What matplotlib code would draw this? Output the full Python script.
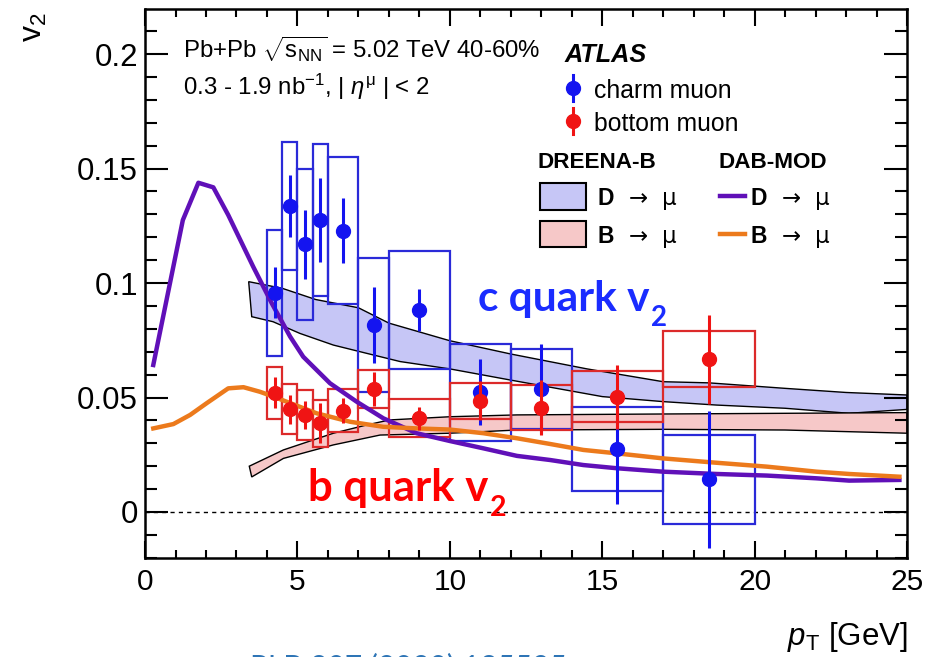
import numpy as np
import matplotlib
matplotlib.use("Agg")
import matplotlib.pyplot as plt
import matplotlib.patches as mpatches
from matplotlib.ticker import MultipleLocator, FuncFormatter

plt.rcParams['font.family'] = ['Liberation Sans', 'DejaVu Sans']
plt.rcParams['mathtext.fontset'] = 'custom'
plt.rcParams['mathtext.rm'] = 'Liberation Sans'
plt.rcParams['mathtext.it'] = 'Liberation Sans:italic'
plt.rcParams['mathtext.bf'] = 'Liberation Sans:bold'
plt.rcParams['mathtext.sf'] = 'Liberation Sans'

# ATLAS data: pT bins, v2, stat and syst errors
bin_edges = [4.0, 4.5, 5.0, 5.5, 6.0, 7.0, 8.0, 10.0, 12.0, 14.0, 17.0, 20.0]
pt = [4.25, 4.75, 5.25, 5.75, 6.5, 7.5, 9.0, 11.0, 13.0, 15.5, 18.5]

charm_v2 = [0.0958, 0.1336, 0.1169, 0.1275, 0.1229, 0.0817, 0.0882, 0.0523, 0.0537, 0.0274, 0.0143]
charm_stat = [0.011, 0.0135, 0.015, 0.0185, 0.0142, 0.0165, 0.009, 0.0145, 0.0195, 0.024, 0.030]
charm_syst = [0.0275, 0.028, 0.033, 0.0333, 0.0322, 0.0293, 0.0257, 0.0212, 0.0173, 0.0184, 0.0195]

bottom_v2 = [0.0521, 0.0448, 0.0424, 0.0387, 0.0442, 0.0537, 0.0409, 0.0485, 0.0456, 0.0504, 0.0667]
bottom_stat = [0.0067, 0.0063, 0.0062, 0.0087, 0.0055, 0.0073, 0.005, 0.0085, 0.012, 0.014, 0.0195]
bottom_syst = [0.0113, 0.0109, 0.011, 0.0104, 0.0094, 0.0084, 0.0083, 0.0079, 0.0097, 0.011, 0.0122]

# DAB-MOD curves
dab_d_pt = [0.27, 1.24, 1.75, 2.24, 2.73, 3.55, 4.16, 4.76, 5.19, 6.07, 6.94, 7.82, 8.91, 10.0,
            11.1, 12.2, 13.29, 14.38, 15.48, 17.0, 18.75, 20.4, 22.03, 23.1, 24.75]
dab_d_v2 = [0.0642, 0.1275, 0.1438, 0.1418, 0.1297, 0.1071, 0.0911, 0.0766, 0.0678, 0.0562, 0.0482,
            0.0409, 0.0344, 0.031, 0.0278, 0.0245, 0.0227, 0.0205, 0.0191, 0.0176, 0.0166, 0.0159,
            0.0147, 0.0137, 0.014]
dab_b_pt = [0.27, 0.93, 1.48, 2.02, 2.73, 3.23, 3.77, 4.21, 5.63, 6.73, 7.82, 8.91, 10.0, 11.1,
            12.2, 13.29, 14.38, 15.48, 17.0, 18.75, 20.4, 22.03, 23.1, 24.75]
dab_b_v2 = [0.0365, 0.0384, 0.0424, 0.0475, 0.054, 0.0545, 0.0525, 0.0504, 0.0431, 0.0394, 0.0372,
            0.0365, 0.036, 0.0344, 0.0322, 0.0297, 0.0271, 0.0256, 0.0234, 0.0215, 0.0198, 0.0176,
            0.0166, 0.0154]

# DREENA-B bands (upper and lower edges)
dreena_d_hi_pt = [3.4, 4.5, 5.6, 7.0, 8.0, 10.0, 12.0, 14.5, 17.0, 18.5, 21.0, 23.0, 25.0]
dreena_d_hi = [0.1006, 0.0977, 0.0928, 0.0892, 0.0825, 0.0748, 0.069, 0.0625, 0.0569, 0.0564, 0.054, 0.0522, 0.0511]
dreena_d_lo_pt = [3.5, 4.2, 5.08, 6.18, 7.27, 8.37, 10.0, 12.0, 15.0, 17.0, 18.75, 21.0, 23.1, 25.0]
dreena_d_lo = [0.0853, 0.0831, 0.078, 0.0729, 0.0693, 0.0657, 0.0625, 0.0576, 0.0504, 0.0482, 0.0467, 0.0453, 0.0431, 0.0448]

dreena_b_hi_pt = [3.42, 4.54, 6.18, 7.27, 8.02, 10.0, 12.2, 17.0, 21.0, 25.0]
dreena_b_hi = [0.0200, 0.0271, 0.0344, 0.038, 0.0402, 0.0416, 0.0424, 0.0428, 0.0431, 0.0434]
dreena_b_lo_pt = [3.5, 4.54, 6.18, 7.71, 10.0, 12.2, 17.0, 21.0, 25.0]
dreena_b_lo = [0.0153, 0.0234, 0.0293, 0.0336, 0.0344, 0.0358, 0.0361, 0.0358, 0.0344]

blue = '#1414f0'
red = '#f01414'
box_blue = '#2a2ad8'
box_red = '#dc2a2a'
purple = '#6010b8'
orange = '#ec7a1c'
band_blue = '#c6c6f6'
band_pink = '#f6c8c8'

fig = plt.figure(figsize=(9.37, 6.57), dpi=100)
ax = fig.add_axes([0.1548, 0.1507, 0.8132, 0.8356])

# DREENA-B bands
ax.fill(np.concatenate([dreena_d_hi_pt, dreena_d_lo_pt[::-1]]),
        np.concatenate([dreena_d_hi, dreena_d_lo[::-1]]),
        facecolor=band_blue, edgecolor='black', linewidth=1.0, zorder=1)
ax.fill(np.concatenate([dreena_b_hi_pt, dreena_b_lo_pt[::-1]]),
        np.concatenate([dreena_b_hi, dreena_b_lo[::-1]]),
        facecolor=band_pink, edgecolor='black', linewidth=1.0, zorder=1)

ax.axhline(0, color='black', linestyle=(0, (3, 3)), linewidth=1.0, zorder=1)

# systematic boxes
edges = np.array(bin_edges)
widths = np.diff(edges)
c_v2 = np.array(charm_v2)
b_v2 = np.array(bottom_v2)
c_sy = np.array(charm_syst)
b_sy = np.array(bottom_syst)
ax.bar(edges[:-1], 2 * c_sy, width=widths, bottom=c_v2 - c_sy, align='edge',
       fill=False, edgecolor=box_blue, linewidth=1.6, zorder=3)
ax.bar(edges[:-1], 2 * b_sy, width=widths, bottom=b_v2 - b_sy, align='edge',
       fill=False, edgecolor=box_red, linewidth=1.6, zorder=3)

# DAB-MOD curves
ax.plot(dab_d_pt, dab_d_v2, color=purple, linewidth=3.2, zorder=4)
ax.plot(dab_b_pt, dab_b_v2, color=orange, linewidth=3.2, zorder=4)

# data points
ax.errorbar(pt, charm_v2, yerr=charm_stat, fmt='o', color=blue, ms=10, elinewidth=2.2,
            capsize=0, zorder=5)
ax.errorbar(pt, bottom_v2, yerr=bottom_stat, fmt='o', color=red, ms=10, elinewidth=2.2,
            capsize=0, zorder=6)

ax.set_xlim(0, 25)
ax.set_ylim(-0.0201, 0.2197)
ax.xaxis.set_major_locator(MultipleLocator(5))
ax.xaxis.set_minor_locator(MultipleLocator(1))
ax.yaxis.set_major_locator(MultipleLocator(0.05))
ax.yaxis.set_minor_locator(MultipleLocator(0.01))
ax.yaxis.set_major_formatter(FuncFormatter(lambda v, p: '%g' % round(v, 3)))
ax.xaxis.set_major_formatter(FuncFormatter(lambda v, p: '%g' % v))
ax.tick_params(which='both', direction='in', top=True, right=True, width=1.5)
ax.tick_params(axis='x', which='major', length=12, pad=7, labelsize=21.5)
ax.tick_params(axis='x', which='minor', length=6)
ax.tick_params(axis='y', which='major', length=16.5, pad=5, labelsize=22.5)
ax.tick_params(axis='y', which='minor', length=8.5)
for s in ax.spines.values():
    s.set_linewidth(1.8)

fig.text(0.036, 0.958, r'v$_\mathregular{2}$', rotation=90, fontsize=23, ha='center', va='center')
fig.text(908 / 937, 1 - 637 / 657, r'$p_{\mathregular{T}}$ [GeV]', fontsize=22.5, ha='right', va='center')

# header texts
ax.text(0.0499, 0.9107, r'Pb+Pb $\sqrt{\mathregular{s}_{\mathregular{NN}}}$ = 5.02 TeV 40-60%',
        transform=ax.transAxes, fontsize=17.3, va='baseline')
ax.text(0.0499, 0.8434, r'0.3 - 1.9 nb$^{\mathregular{-1}}$, | $\eta^{\mathregular{\mu}}$ | < 2',
        transform=ax.transAxes, fontsize=17.3, va='baseline')
ax.text(0.551, 0.9035, 'ATLAS', transform=ax.transAxes, fontsize=18.2, fontweight='bold',
        style='italic', va='baseline')

# legend: data
for yc, col, lab in [(0.8561, blue, 'charm muon'), (0.7960, red, 'bottom muon')]:
    ax.plot([0.5617, 0.5617], [yc - 0.0237, yc + 0.0237], color=col, lw=2.2,
            transform=ax.transAxes, clip_on=False)
    ax.plot([0.5617], [yc], 'o', color=col, ms=10, transform=ax.transAxes, clip_on=False)
    ax.text(0.5892, yc - 0.0182, lab, transform=ax.transAxes, fontsize=17.8, va='baseline')

# legend: theory
ax.text(0.5157, 0.7104, 'DREENA-B', transform=ax.transAxes, fontsize=16.2, fontweight='bold', va='baseline')
ax.text(0.752, 0.7104, 'DAB-MOD', transform=ax.transAxes, fontsize=16.2, fontweight='bold', va='baseline')
rows = [(0.6585, 0.643, band_blue, purple, 'D'), (0.5902, 0.5738, band_pink, orange, 'B')]
for yc, yb, fc, lc, q in rows:
    ax.add_patch(mpatches.Rectangle((0.5187, yc - 0.0244), 0.0604, 0.0488, transform=ax.transAxes,
                                    facecolor=fc, edgecolor='black', linewidth=1.5))
    ax.text(0.5932, yb, r'$\mathbf{%s}$  →  μ' % q, transform=ax.transAxes,
            fontsize=16.5, va='baseline', family='DejaVu Sans')
    ax.plot([0.7546, 0.7874], [yc, yc], color=lc, lw=3.2, transform=ax.transAxes)
    ax.text(0.794, yb, r'$\mathbf{%s}$  →  μ' % q, transform=ax.transAxes,
            fontsize=16.5, va='baseline', family='DejaVu Sans')

# quark annotations
t1 = ax.text(0.437, 0.45, 'c quark v', transform=ax.transAxes, fontsize=30.5, fontweight='bold',
             color='#1a2cff', family='Lato', va='baseline')
ax.annotate('2', xy=(1, 0), xycoords=t1, xytext=(1, -6), textcoords='offset points',
            fontsize=20, fontweight='bold', color='#1a2cff', family='Lato', va='baseline')
t2 = ax.text(0.2139, 0.1038, 'b quark v', transform=ax.transAxes, fontsize=31.5, fontweight='bold',
             color='#ff0000', family='Lato', va='baseline')
ax.annotate('2', xy=(1, 0), xycoords=t2, xytext=(1, -6), textcoords='offset points',
            fontsize=20.5, fontweight='bold', color='#ff0000', family='Lato', va='baseline')

fig.text(250 / 937, 1 - 652.5 / 657, 'PLB 807 (2020) 135595', fontsize=21.5, color='#2e75b6',
         family='Lato', va='top')

fig.savefig('out.png', dpi=100)
